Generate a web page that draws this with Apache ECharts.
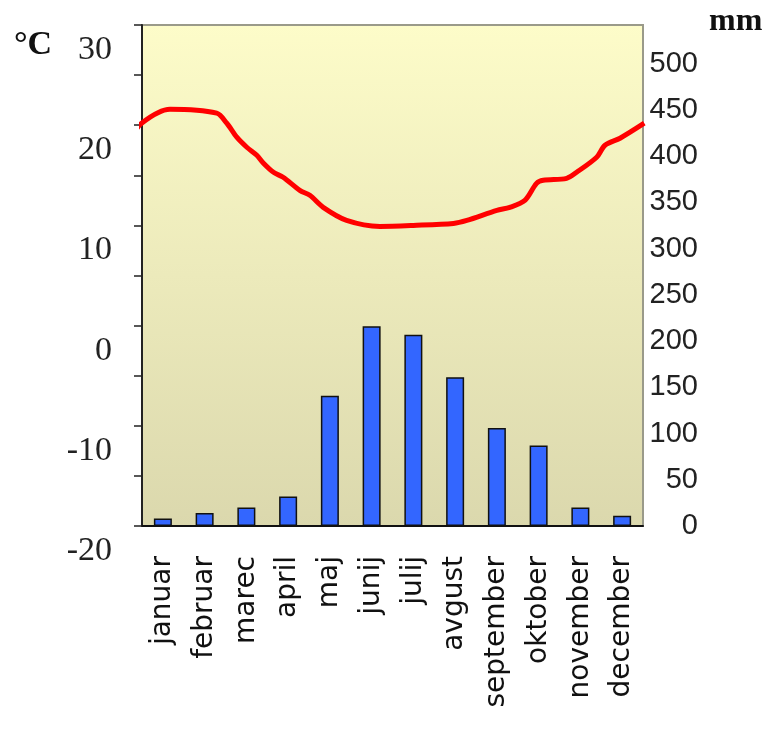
<!DOCTYPE html>
<html>
<head>
<meta charset="utf-8">
<title>Klimogram</title>
<script src="https://cdn.jsdelivr.net/npm/echarts@6/dist/echarts.min.js"></script>
<style>
  html, body { margin: 0; padding: 0; background: #ffffff; }
  #main { width: 767px; height: 739px; }
</style>
</head>
<body>
<div id="main"></div>
<script>
// months (slovenian)
var months = ["januar", "februar", "marec", "april", "maj", "junij",
  "julij", "avgust", "september", "oktober", "november", "december"];

// precipitation, mm
var rainfall = [8, 14, 20, 32, 141, 216, 207, 161, 106, 87, 20, 11];

// temperature curve, read along the month axis (0 = start of januar, 12 = end of december)
var tempAt = [-0.29, -0.01, 0.67, 1.79, 2.03, 2.27, 2.51, 2.75, 2.91, 3.15, 3.38, 3.78,
  4.02, 4.34, 4.90, 5.70, 6.50, 7.46, 7.78, 8.50, 8.81, 9.17, 9.45, 9.61,
  10.17, 10.41, 10.89, 11.09, 11.45, 12.03];
var temperature = [18.5, 20.2, 21.6, 21.2, 20.2, 18.8, 17.8, 17.0, 16.2, 15.3, 14.8, 13.5,
  13.0, 11.8, 10.5, 9.9, 10.0, 10.2, 10.5, 11.5, 11.8, 12.5, 14.2, 14.5,
  14.7, 15.3, 16.8, 18.0, 18.7, 20.2];

var tempPoints = tempAt.map(function (x, i) { return [x, temperature[i]]; });

var myChart = echarts.init(document.getElementById("main"));

var option = {
  animation: false,
  grid: {
    left: 142,
    right: 124,
    top: 25,
    bottom: 213,
    show: true,
    borderColor: "#9a9a8a",
    borderWidth: 2,
    backgroundColor: new echarts.graphic.LinearGradient(0, 0, 0, 1, [
      { offset: 0, color: "#fdfcc9" },
      { offset: 1, color: "#dbd8ad" }
    ])
  },
  graphic: [
    {
      type: "text", left: 14, top: 28,
      style: { text: "°C", font: "bold 34px 'Liberation Serif', serif", fill: "#111" }
    },
    {
      type: "text", left: 709, top: 6,
      style: { text: "mm", font: "bold 32px 'Liberation Serif', serif", fill: "#111" }
    }
  ],
  xAxis: [
    {
      type: "category",
      data: months,
      boundaryGap: true,
      axisLine: { onZero: false, lineStyle: { color: "#111", width: 2 } },
      axisTick: { length: 13, lineStyle: { color: "#111", width: 1.5 } },
      axisLabel: {
        rotate: 90,
        interval: 0,
        margin: 30,
        color: "#111",
        fontFamily: "DejaVu Sans",
        fontSize: 28
      },
      splitLine: { show: false }
    },
    {
      type: "value",
      min: 0,
      max: 12,
      show: false
    }
  ],
  yAxis: [
    {
      type: "value",
      position: "left",
      min: -20,
      max: 30,
      interval: 5,
      axisLine: { show: true, lineStyle: { color: "#222", width: 2 } },
      axisTick: { show: true, length: 8, lineStyle: { color: "#222", width: 1.5 } },
      axisLabel: {
        margin: 30,
        color: "#222",
        fontFamily: "Liberation Serif",
        fontSize: 34,
        verticalAlign: "top",
        lineHeight: 50,
        formatter: function (v) { return v % 10 === 0 ? String(v) : ""; }
      },
      splitLine: { show: false }
    },
    {
      type: "value",
      position: "right",
      min: 0,
      max: 542,
      interval: 50,
      axisLine: { show: false },
      axisTick: { show: false },
      axisLabel: {
        margin: 55,
        align: "right",
        color: "#222",
        fontFamily: "Liberation Sans",
        fontSize: 29,
        showMaxLabel: false
      },
      splitLine: { show: false }
    }
  ],
  series: [
    {
      name: "padavine",
      type: "bar",
      xAxisIndex: 0,
      yAxisIndex: 1,
      data: rainfall,
      barWidth: 18,
      itemStyle: { color: "#3366ff", borderColor: "#111", borderWidth: 1.5 }
    },
    {
      name: "temperatura",
      type: "line",
      xAxisIndex: 1,
      yAxisIndex: 0,
      data: tempPoints,
      smooth: 0.3,
      clip: false,
      showSymbol: false,
      lineStyle: { color: "#ff0000", width: 5 }
    }
  ]
};

option && myChart.setOption(option);
</script>
</body>
</html>
